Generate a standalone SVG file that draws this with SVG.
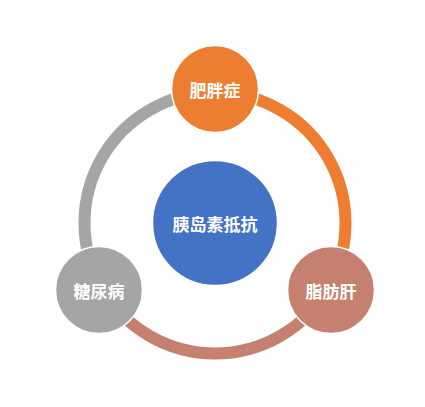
<svg xmlns="http://www.w3.org/2000/svg" width="425" height="407" viewBox="0 0 425 407">
<style>
.arc{fill:none;stroke-width:12}
.node{stroke:#fff;stroke-width:1.5}
.lbl{fill:#fff;font-family:"Noto Sans CJK SC","Noto Sans",sans-serif;font-weight:bold;font-size:17px;text-anchor:middle;dominant-baseline:central}
</style>
<rect width="425" height="407" fill="#fff"/>
<g id="connectors">
<path class="arc" stroke="#ED7D31" d="M215 92.5 A130.5 130.5 0 0 1 328.02 288.25"/>
<path class="arc" stroke="#C5806F" d="M328.02 288.25 A130.5 130.5 0 0 1 101.98 288.25"/>
<path class="arc" stroke="#A5A5A5" d="M101.98 288.25 A130.5 130.5 0 0 1 215 92.5"/>
</g>
<g id="center">
<circle class="node" cx="215" cy="223" r="62.5" fill="#4472C4"/>
<text class="lbl" x="215" y="223">胰岛素抵抗</text>
</g>
<g id="obesity">
<circle class="node" cx="215" cy="89" r="43.5" fill="#ED7D31"/>
<text class="lbl" x="215" y="89">肥胖症</text>
</g>
<g id="fattyliver">
<circle class="node" cx="331" cy="290" r="43.5" fill="#C5806F"/>
<text class="lbl" x="331" y="290">脂肪肝</text>
</g>
<g id="diabetes">
<circle class="node" cx="99" cy="290" r="43.5" fill="#A5A5A5"/>
<text class="lbl" x="99" y="290">糖尿病</text>
</g>
</svg>
